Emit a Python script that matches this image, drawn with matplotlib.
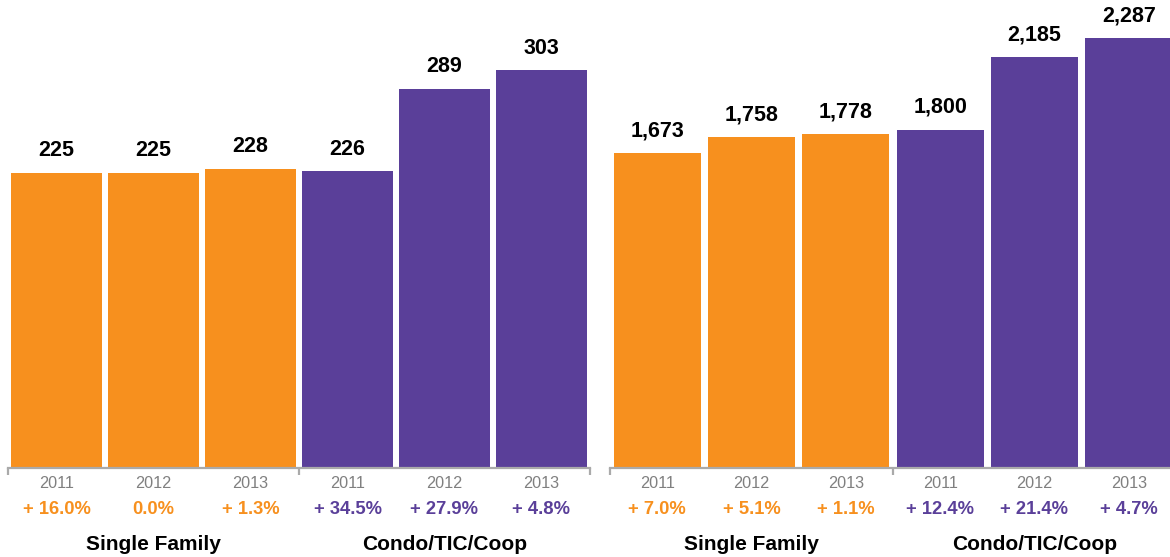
import matplotlib
matplotlib.use("Agg")
import matplotlib.pyplot as plt

years = ["2011", "2012", "2013", "2011", "2012", "2013"]
groups = ["Single Family", "Condo/TIC/Coop"]
left_values = [225, 225, 228, 226, 289, 303]
left_changes = ["+ 16.0%", "0.0%", "+ 1.3%", "+ 34.5%", "+ 27.9%", "+ 4.8%"]
right_values = [1673, 1758, 1778, 1800, 2185, 2287]
right_changes = ["+ 7.0%", "+ 5.1%", "+ 1.1%", "+ 12.4%", "+ 21.4%", "+ 4.7%"]

ORANGE = "#F7901E"
PURPLE = "#5A3F99"
GRAY = "#AAAAAA"
colors = [ORANGE] * 3 + [PURPLE] * 3

plt.rcParams["font.family"] = ["Liberation Sans", "DejaVu Sans"]

W, H = 1170, 557
fig = plt.figure(figsize=(W / 100, H / 100), dpi=100)
base = 468

def panel(x0, x1, values, changes, ymax, width):
    ax = fig.add_axes([x0 / W, (H - base) / H, (x1 - x0) / W, base / H])
    xs = list(range(len(values)))
    ax.bar(xs, values, width=width, color=colors, zorder=2)
    ax.set_xlim(-0.5, 5.5)
    ax.set_ylim(0, ymax)
    for s in ["top", "left", "right"]:
        ax.spines[s].set_visible(False)
    ax.spines["bottom"].set_color(GRAY)
    ax.spines["bottom"].set_linewidth(1.6)
    ax.set_yticks([])
    ax.set_xticks([-0.5, 2.5, 5.5])
    ax.set_xticklabels([])
    ax.tick_params(axis="x", direction="out", length=5, width=1.6, color=GRAY)
    tr = ax.get_xaxis_transform()
    for i, (v, c) in enumerate(zip(values, changes)):
        ax.annotate(f"{v:,}", (i, v), xytext=(0, 12), textcoords="offset points",
                    ha="center", va="baseline", fontsize=15.5, fontweight="bold",
                    color="black", annotation_clip=False)
        ax.annotate(years[i], (i, 0), xycoords=tr, xytext=(0, -14.4),
                    textcoords="offset points", ha="center", va="baseline",
                    fontsize=11.7, color="#808080", annotation_clip=False)
        ax.annotate(c, (i, 0), xycoords=tr, xytext=(0, -33.1),
                    textcoords="offset points", ha="center", va="baseline",
                    fontsize=13.2, fontweight="bold", color=colors[i],
                    annotation_clip=False)
    for g, cx in zip(groups, [1, 4]):
        ax.annotate(g, (cx, 0), xycoords=tr, xytext=(0, -59),
                    textcoords="offset points", ha="center", va="baseline",
                    fontsize=15, fontweight="bold", color="black",
                    annotation_clip=False)
    return ax

panel(8, 590, left_values, left_changes, 356.7, 0.93)
panel(610, 1176, right_values, right_changes, 2489, 0.92)

fig.savefig("out.png", dpi=100)
